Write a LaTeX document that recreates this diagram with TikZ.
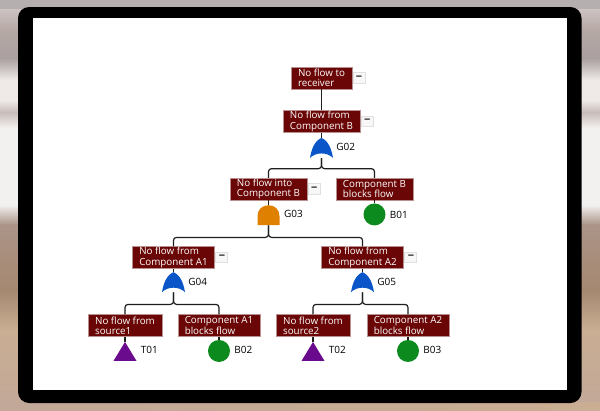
\documentclass[tikz,border=0pt]{standalone}
\usepackage{fontspec}
\setmainfont{Open Sans}
\usepackage{xcolor}
\usetikzlibrary{positioning,calc}
\definecolor{cEvent}{HTML}{6A0606}
\definecolor{cEdge}{HTML}{B89090}
\definecolor{cOr}{HTML}{0A55C8}
\definecolor{cAnd}{HTML}{E08000}
\definecolor{cBasic}{HTML}{0C8A1E}
\definecolor{cTrans}{HTML}{6A0A8C}
\definecolor{cInk}{HTML}{1E1E1E}
\definecolor{b00}{HTML}{C2A898}
\definecolor{b01}{HTML}{C9AE93}
\definecolor{b02}{HTML}{A58870}
\definecolor{b03}{HTML}{AB9488}
\definecolor{b04}{HTML}{F3F1F0}
\definecolor{b05}{HTML}{C8BCB8}
\definecolor{b06}{HTML}{EFEAE8}
\definecolor{b07}{HTML}{AAA0A0}
\definecolor{b08}{HTML}{B5A8A5}
\definecolor{b09}{HTML}{D6CECE}
\pgfdeclareverticalshading{wallshade}{100bp}{
  color(0bp)=(b00);
  color(25bp)=(b00);
  color(34.75bp)=(b01);
  color(39.6bp)=(b02);
  color(47.6bp)=(b03);
  color(50bp)=(b04);
  color(59.4bp)=(b04);
  color(61.3bp)=(b05);
  color(62.8bp)=(b06);
  color(65.2bp)=(b06);
  color(67.9bp)=(b07);
  color(71.3bp)=(b08);
  color(75bp)=(b09);
  color(100bp)=(b09)}
\tikzset{
  evtbox/.style  = {draw=cEdge, line width=0.5pt, fill=cEvent, text=white, align=left,
                    inner xsep=7pt, inner ysep=0pt, minimum height=22pt,
                    font=\fontsize{9.8}{10.2}\selectfont},
  minusbtn/.style = {draw=black!12, line width=0.8pt, fill=black!3, inner sep=0pt,
                    minimum width=12pt, minimum height=10.5pt,
                    font=\fontsize{11}{11}\selectfont\bfseries, text=cInk},
  gate/.style    = {inner sep=0pt, minimum width=23pt, minimum height=20pt},
  orgate/.style  = {gate, path picture={
      \fill[cOr, shift={(path picture bounding box.center)}]
        (0pt,10pt) .. controls (7pt,7pt) and (10pt,-1pt) .. (11.5pt,-10pt)
        .. controls (6pt,-4pt) and (-6pt,-4pt) .. (-11.5pt,-10pt)
        .. controls (-10pt,-1pt) and (-7pt,7pt) .. (0pt,10pt) -- cycle;}},
  andgate/.style = {gate, path picture={
      \fill[cAnd, shift={(path picture bounding box.center)}]
        (-11pt,-10pt) -- (-11pt,-1pt) .. controls (-11pt,6pt) and (-6pt,10pt) .. (0pt,10pt)
        .. controls (6pt,10pt) and (11pt,6pt) .. (11pt,-1pt) -- (11pt,-10pt) -- cycle;}},
  transfer/.style = {inner sep=0pt, minimum width=23pt, minimum height=19pt, path picture={
      \fill[cTrans] (path picture bounding box.north)
        -- (path picture bounding box.south east)
        -- (path picture bounding box.south west) -- cycle;}},
  basic/.style   = {circle, fill=cBasic, inner sep=0pt, minimum size=22pt},
  tag/.style     = {font=\fontsize{10}{10}\selectfont, text=black, inner sep=0pt},
  link/.style    = {draw=cInk, line width=1.2pt},
  branch/.style  = {link, rounded corners=3pt},
}
\begin{document}
\begin{tikzpicture}[x=1pt,y=-1pt]
  \useasboundingbox (0,0) rectangle (600,410);
  % ---- tablet ----
  \path[shading=wallshade] (0,0) rectangle (600,410);
  \path[left color=b09!85!black, middle color=b06, right color=b09!85!black] (0,0) rectangle (600,8);
  \path[left color=b00, middle color=b05, right color=b01] (0,402) rectangle (600,410);
  \fill[black, rounded corners=11pt] (18,7) rectangle (581.5,403);
  \fill[white] (33,18) rectangle (567,389.5);
  % ---- top of the tree ----
  \node[evtbox] (recv) at (321.5,78) {No flow to\\receiver};
  \node[evtbox, below=21pt of recv] (compB) {No flow from\\Component B};
  \node[orgate, below=5pt of compB] (g02) {};
  \node[evtbox, below=45pt of compB, xshift=-53pt] (intoB) {No flow into\\Component B};
  \node[evtbox, below=45pt of compB, xshift=53pt] (blockB) {Component B\\blocks flow};
  \node[andgate, below=4.75pt of intoB] (g03) {};
  \node[basic, below=3pt of blockB] (b01) {};
  % ---- component A1 side ----
  \node[evtbox, below=46pt of intoB, xshift=-95pt] (compA1) {No flow from\\Component A1};
  \node[orgate, below=3.25pt of compA1] (g04) {};
  \node[evtbox, below=45.5pt of compA1, xshift=-48.5pt] (src1) {No flow from\\source1};
  \node[evtbox, below=45.5pt of compA1, xshift=45.5pt] (blockA1) {Component A1\\blocks flow};
  \node[transfer, below=5pt of src1] (t01) {};
  \node[basic, below=3pt of blockA1] (b02) {};
  % ---- component A2 side ----
  \node[evtbox, below=46pt of intoB, xshift=94pt] (compA2) {No flow from\\Component A2};
  \node[orgate, below=3.25pt of compA2] (g05) {};
  \node[evtbox, below=45.5pt of compA2, xshift=-49.5pt] (src2) {No flow from\\source2};
  \node[evtbox, below=45.5pt of compA2, xshift=45.5pt] (blockA2) {Component A2\\blocks flow};
  \node[transfer, below=5pt of src2] (t02) {};
  \node[basic, below=3pt of blockA2] (b03) {};
  % ---- collapse buttons ----
  \node[minusbtn, right=0.5pt of recv] (mRecv) {−};
  \node[minusbtn, right=0.5pt of compB] (mCompB) {−};
  \node[minusbtn, right=0.5pt of intoB] (mIntoB) {−};
  \node[minusbtn, right=0.5pt of compA1] (mCompA1) {−};
  \node[minusbtn, right=0.5pt of compA2] (mCompA2) {−};
  % ---- gate names ----
  \node[tag, right=3pt of g02, yshift=1.5pt] (tG02) {G02};
  \node[tag, right=3.8pt of g03, yshift=1pt] (tG03) {G03};
  \node[tag, right=4pt of b01] (tB01) {B01};
  \node[tag, right=3pt of g04] (tG04) {G04};
  \node[tag, right=3pt of g05] (tG05) {G05};
  \node[tag, right=4pt of t01, yshift=2pt] (tT01) {T01};
  \node[tag, right=4pt of b02, yshift=1.5pt] (tB02) {B02};
  \node[tag, right=4pt of t02, yshift=2pt] (tT02) {T02};
  \node[tag, right=4pt of b03, yshift=1.5pt] (tB03) {B03};
  % ---- connectors ----
  \draw[link] (recv) -- (compB);
  \draw[link] (compB) -- (g02);
  \draw[branch] (g02.south) -- ++(0,10.5) -| (intoB.north);
  \draw[branch] (g02.south) -- ++(0,10.5) -| (blockB.north);
  \draw[link] (intoB) -- (g03);
  \draw[link] (blockB) -- (b01);
  \draw[branch] (g03.south) -- ++(0,12) -| (compA1.north);
  \draw[branch] (g03.south) -- ++(0,12) -| (compA2.north);
  \draw[link] (compA1) -- (g04);
  \draw[link] (compA2) -- (g05);
  \draw[branch] (g04.south) -- ++(0,12) -| (src1.north);
  \draw[branch] (g04.south) -- ++(0,12) -| (blockA1.north);
  \draw[branch] (g05.south) -- ++(0,12) -| (src2.north);
  \draw[branch] (g05.south) -- ++(0,12) -| (blockA2.north);
  \draw[link] (src1) -- (t01);
  \draw[link] (blockA1) -- (b02);
  \draw[link] (src2) -- (t02);
  \draw[link] (blockA2) -- (b03);
\end{tikzpicture}
\end{document}
